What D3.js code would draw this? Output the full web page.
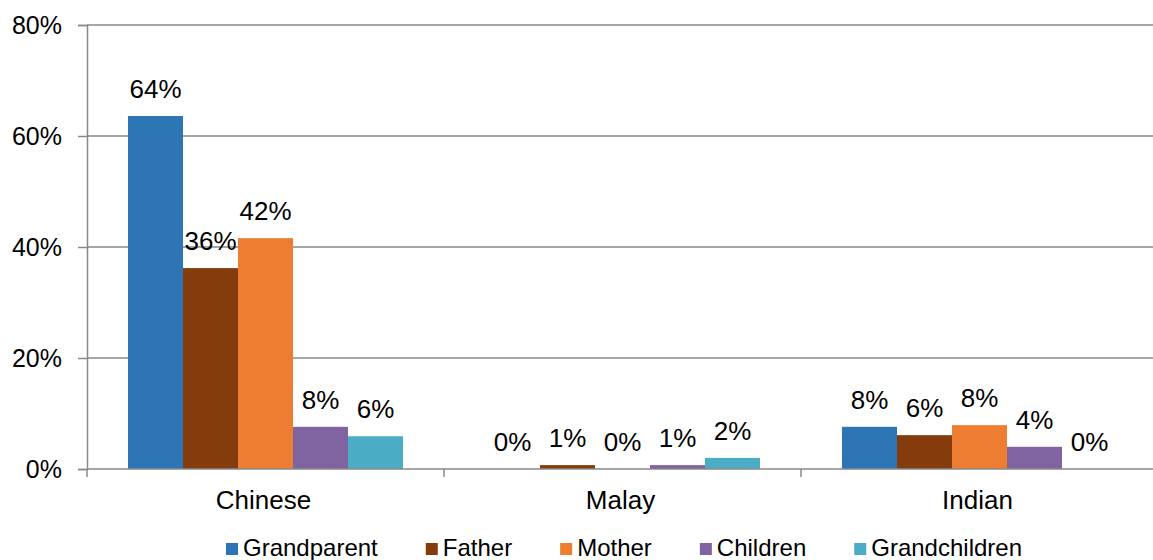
<!DOCTYPE html>
<html>
<head>
<meta charset="utf-8">
<script src="https://cdn.jsdelivr.net/npm/d3@7/dist/d3.min.js"></script>
<style>
  body { margin: 0; background: #fff; }
  svg { display: block; }
  text { font-family: "Liberation Sans", Arial, sans-serif; fill: #000; }
</style>
</head>
<body>
<svg id="chart" width="1153" height="560"></svg>
<script>
const categories = ["Chinese", "Malay", "Indian"];
const seriesNames = ["Grandparent", "Father", "Mother", "Children", "Grandchildren"];
const grandparent = [63.6, 0, 7.6];
const father = [36.2, 0.7, 6.1];
const mother = [41.6, 0, 7.9];
const children = [7.6, 0.7, 4.0];
const grandchildren = [5.9, 2.0, 0];
const yTicks = [0, 20, 40, 60, 80];
const colors = ["#2E75B6", "#843C0C", "#ED7D31", "#8064A2", "#4BACC6"];

const seriesValues = [grandparent, father, mother, children, grandchildren];
const svg = d3.select("#chart");
const margin = { left: 87, right: -5, top: 25, bottom: 91 };
const W = 1153, H = 560;
const x0 = d3.scaleBand().domain(categories).range([margin.left, W - margin.right]).paddingInner(0).paddingOuter(0);
const groupFrac = 275 / 357;
const x1 = d3.scaleBand().domain(seriesNames)
  .range([0, x0.bandwidth() * groupFrac]).padding(0);
const groupOffset = (x0.bandwidth() - x0.bandwidth() * groupFrac) / 2;
const y = d3.scaleLinear().domain([0, 80]).range([H - margin.bottom, margin.top]);

const gridColor = "#898989";

// gridlines
svg.append("g").selectAll("line").data(yTicks.filter(d => d > 0)).join("line")
  .attr("x1", margin.left).attr("x2", W)
  .attr("y1", d => y(d)).attr("y2", d => y(d))
  .attr("stroke", gridColor).attr("stroke-width", 1.5);

// y axis
const yAxis = d3.axisLeft(y).tickValues(yTicks).tickFormat(d => d + "%").tickSize(9).tickPadding(16);
const gy = svg.append("g").attr("transform", `translate(${margin.left},0)`).call(yAxis);
gy.select(".domain").attr("stroke", gridColor).attr("stroke-width", 1.5);
gy.selectAll(".tick line").attr("stroke", gridColor).attr("stroke-width", 1.5);
gy.selectAll(".tick text").style("font-size", "25px").style("font-family", '"Liberation Sans", Arial, sans-serif').attr("fill", "#000");

// bars
const data = [];
categories.forEach((c, ci) => {
  seriesNames.forEach((s, si) => {
    data.push({ cat: c, series: s, value: seriesValues[si][ci], color: colors[si] });
  });
});
const barG = svg.append("g");
barG.selectAll("rect").data(data).join("rect")
  .attr("x", d => x0(d.cat) + groupOffset + x1(d.series))
  .attr("width", x1.bandwidth())
  .attr("y", d => y(d.value))
  .attr("height", d => y(0) - y(d.value))
  .attr("fill", d => d.color);

// x axis
const xAxisG = svg.append("g").attr("transform", `translate(0,${y(0)})`);
xAxisG.append("line").attr("x1", margin.left).attr("x2", W)
  .attr("stroke", gridColor).attr("stroke-width", 1.5);
const boundaries = categories.map(c => x0(c)).concat([x0.range()[1]]);
xAxisG.selectAll("line.tk").data(boundaries).join("line").attr("class", "tk")
  .attr("x1", d => d).attr("x2", d => d).attr("y1", 0).attr("y2", 8)
  .attr("stroke", gridColor).attr("stroke-width", 1.5);
xAxisG.selectAll("text").data(categories).join("text")
  .attr("x", d => x0(d) + x0.bandwidth() / 2 - 2)
  .attr("y", 40)
  .attr("text-anchor", "middle")
  .style("font-size", "26px")
  .text(d => d);

// data labels
svg.append("g").selectAll("text").data(data).join("text")
  .attr("x", d => x0(d.cat) + groupOffset + x1(d.series) + x1.bandwidth() / 2)
  .attr("y", d => y(d.value) - 18)
  .attr("text-anchor", "middle")
  .style("font-size", "26px")
  .text(d => Math.round(d.value) + "%");

// legend
const legend = svg.append("g");
const items = legend.selectAll("g").data(seriesNames).join("g");
items.append("rect").attr("width", 12).attr("height", 12).attr("y", -13)
  .attr("fill", (d, i) => colors[i]);
items.append("text").attr("x", 17).attr("y", 0).style("font-size", "24px").text(d => d);
let cx = 0;
const positions = [];
items.each(function (d, i) {
  const tw = this.querySelector("text").getComputedTextLength();
  positions.push(cx);
  cx += 17 + tw + (i < seriesNames.length - 1 ? 48 : 0);
});
const startX = 624 - cx / 2;
items.attr("transform", (d, i) => `translate(${startX + positions[i]},556)`);
</script>
</body>
</html>
